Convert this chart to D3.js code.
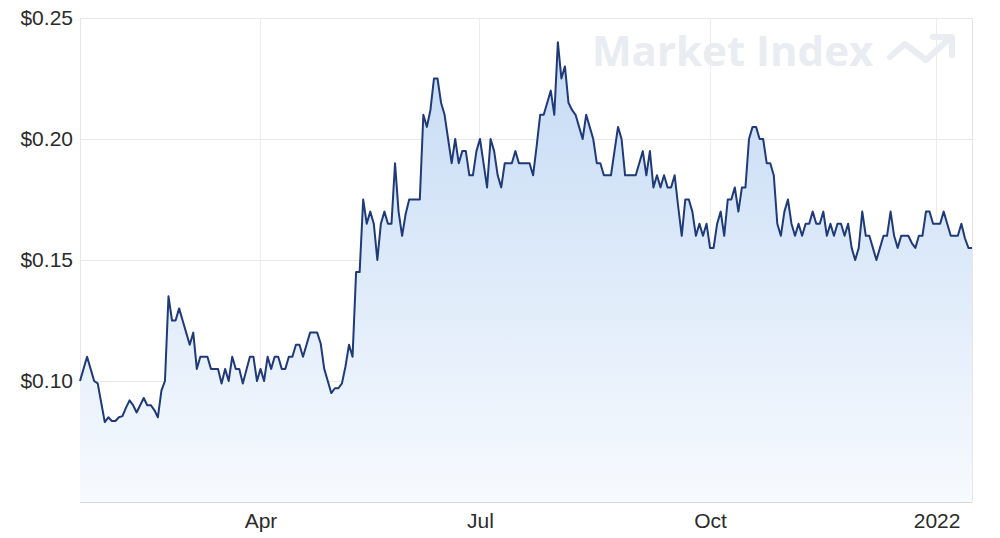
<!DOCTYPE html>
<html>
<head>
<meta charset="utf-8">
<script src="https://cdn.jsdelivr.net/npm/d3@7"></script>
<style>
  html, body { margin: 0; padding: 0; background: #ffffff; }
  svg { display: block; font-family: "Liberation Sans", Arial, sans-serif; }
</style>
</head>
<body>
<svg id="chart" width="1000" height="538"></svg>
<script>
// Daily closing prices (trading days), Jan 2021 – Jan 2022
const prices = [
  0.100,0.105,0.110,0.105,0.100,0.099,0.091,0.083,0.085,0.0835,
  0.0835,0.085,0.0855,0.089,0.092,0.090,0.087,0.090,0.093,0.090,
  0.090,0.088,0.085,0.096,0.100,0.135,0.125,0.125,0.130,0.125,
  0.120,0.115,0.120,0.105,0.110,0.110,0.110,0.105,0.105,0.105,
  0.099,0.105,0.100,0.110,0.105,0.105,0.099,0.1045,0.110,0.110,
  0.100,0.105,0.100,0.110,0.105,0.110,0.110,0.105,0.105,0.110,
  0.110,0.115,0.115,0.110,0.115,0.120,0.120,0.120,0.1155,0.105,
  0.100,0.095,0.097,0.097,0.099,0.106,0.115,0.110,0.145,0.145,
  0.175,0.165,0.170,0.165,0.150,0.165,0.170,0.165,0.165,0.190,
  0.170,0.160,0.169,0.175,0.175,0.175,0.175,0.210,0.205,0.212,
  0.225,0.225,0.215,0.210,0.200,0.190,0.200,0.190,0.195,0.195,
  0.185,0.185,0.195,0.200,0.190,0.180,0.200,0.195,0.185,0.180,
  0.190,0.190,0.190,0.195,0.190,0.190,0.190,0.190,0.185,0.197,
  0.210,0.210,0.215,0.220,0.210,0.240,0.225,0.230,0.215,0.212,
  0.210,0.205,0.200,0.210,0.205,0.200,0.190,0.190,0.185,0.185,
  0.185,0.195,0.205,0.200,0.185,0.185,0.185,0.185,0.190,0.195,
  0.185,0.195,0.180,0.185,0.180,0.185,0.180,0.180,0.185,0.172,
  0.160,0.175,0.175,0.170,0.160,0.165,0.160,0.165,0.155,0.155,
  0.165,0.170,0.160,0.175,0.175,0.180,0.170,0.180,0.180,0.200,
  0.205,0.205,0.200,0.200,0.190,0.190,0.185,0.165,0.160,0.170,
  0.175,0.165,0.160,0.165,0.160,0.165,0.165,0.170,0.165,0.165,
  0.170,0.160,0.165,0.160,0.165,0.165,0.160,0.165,0.155,0.150,
  0.155,0.170,0.160,0.160,0.155,0.150,0.155,0.160,0.160,0.170,
  0.160,0.155,0.160,0.160,0.160,0.157,0.155,0.160,0.160,0.170,
  0.170,0.165,0.165,0.165,0.170,0.165,0.160,0.160,0.160,0.165,
  0.159,0.155,0.155
];

// x-axis ticks: trading-day index of the first session of each labelled period
const xTickIndex = [51, 113, 178, 242];
const xTickLabels = ["Apr", "Jul", "Oct", "2022"];

// y-axis ticks
const yTicks = [0.10, 0.15, 0.20, 0.25];
const yDomain = [0.05, 0.25];

const svg = d3.select("#chart");
const pLeft = 80, pRight = 972, pTop = 18, pBottom = 502;

const x = d3.scaleLinear().domain([0, prices.length - 1]).range([pLeft, pRight]);
const y = d3.scaleLinear().domain(yDomain).range([pBottom, pTop]);

// gradient
const defs = svg.append("defs");
const grad = defs.append("linearGradient")
  .attr("id", "areaGrad").attr("gradientUnits", "userSpaceOnUse")
  .attr("x1", 0).attr("x2", 0).attr("y1", pTop).attr("y2", pBottom);
grad.append("stop").attr("offset", "0%").attr("stop-color", "#c2d9f4");
grad.append("stop").attr("offset", "100%").attr("stop-color", "#f7fafe");

// grid lines
const grid = svg.append("g");
grid.selectAll("line.h").data(yTicks).join("line")
  .attr("x1", pLeft).attr("x2", pRight)
  .attr("y1", d => y(d)).attr("y2", d => y(d))
  .attr("stroke", "#e8e8e8").attr("stroke-width", 1).attr("shape-rendering", "crispEdges");
grid.selectAll("line.v").data(xTickIndex).join("line")
  .attr("x1", d => x(d)).attr("x2", d => x(d))
  .attr("y1", pTop).attr("y2", pBottom)
  .attr("stroke", "#ececec").attr("stroke-width", 1).attr("shape-rendering", "crispEdges");
grid.append("line").attr("x1", pLeft).attr("x2", pLeft).attr("y1", pTop).attr("y2", pBottom)
  .attr("stroke", "#e6e6e6").attr("shape-rendering", "crispEdges");
grid.append("line").attr("x1", pRight).attr("x2", pRight).attr("y1", pTop).attr("y2", pBottom)
  .attr("stroke", "#e6e6e6").attr("shape-rendering", "crispEdges");

// watermark
const wm = svg.append("g").attr("fill", "#e9ecf1").attr("stroke", "#e9ecf1");
wm.append("text").attr("x", 592).attr("y", 66)
  .attr("stroke", "none")
  .style("font-family", "'Open Sans', 'Liberation Sans', sans-serif")
  .style("font-weight", 700).style("font-size", "42px")
  .text("Market Index");
wm.append("path")
  .attr("d", "M890,57 L905,44 L926,60 L951,37 M933,37 L952,37 L952,55")
  .attr("fill", "none").attr("stroke-width", 6)
  .attr("stroke-linecap", "round").attr("stroke-linejoin", "round");

// area and line
const area = d3.area().x((d, i) => x(i)).y0(pBottom).y1(d => y(d));
const line = d3.line().x((d, i) => x(i)).y(d => y(d));

svg.append("path").datum(prices).attr("d", area).attr("fill", "url(#areaGrad)");
svg.append("path").datum(prices).attr("d", line)
  .attr("fill", "none").attr("stroke", "#1f3a78").attr("stroke-width", 2)
  .attr("stroke-linejoin", "round");

// bottom axis line
svg.append("line").attr("x1", pLeft).attr("x2", pRight).attr("y1", pBottom).attr("y2", pBottom)
  .attr("stroke", "#d6d6d6").attr("shape-rendering", "crispEdges");

// axes
const yAxis = d3.axisLeft(y).tickValues(yTicks).tickSize(0).tickPadding(7)
  .tickFormat(d => "$" + d3.format(".2f")(d));
const gy = svg.append("g").attr("transform", `translate(${pLeft},0)`).call(yAxis);
gy.select(".domain").remove();
gy.selectAll("text").style("font-size", "21px").attr("fill", "#2b2b2b")
  .attr("font-family", "'Liberation Sans', Arial, sans-serif");

const xAxis = d3.axisBottom(x).tickValues(xTickIndex).tickSize(0).tickPadding(11)
  .tickFormat((d, i) => xTickLabels[i]);
const gx = svg.append("g").attr("transform", `translate(0,${pBottom})`).call(xAxis);
gx.select(".domain").remove();
gx.selectAll("text").style("font-size", "21px").attr("fill", "#2b2b2b")
  .attr("font-family", "'Liberation Sans', Arial, sans-serif");
</script>
</body>
</html>
